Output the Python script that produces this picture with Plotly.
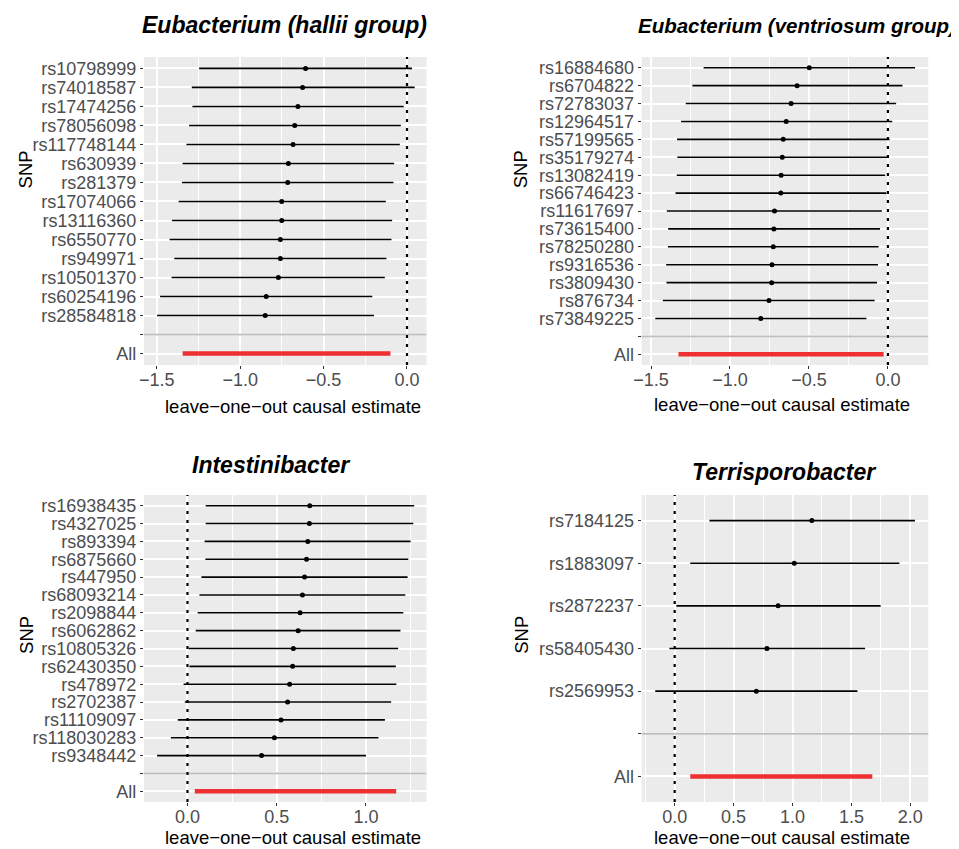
import plotly.graph_objects as go

# page has an 8px body margin; figure covers reference pixels 8..959 / 8..849
OFF = 8
W, H = 959 - OFF, 849 - OFF

# ---------------- data ----------------
title1 = "Eubacterium (hallii group)"
snp1 = ["rs10798999", "rs74018587", "rs17474256", "rs78056098", "rs117748144",
        "rs630939", "rs281379", "rs17074066", "rs13116360", "rs6550770",
        "rs949971", "rs10501370", "rs60254196", "rs28584818"]
est1 = [-0.608, -0.626, -0.654, -0.673, -0.683, -0.711, -0.715, -0.751, -0.751,
        -0.759, -0.759, -0.771, -0.844, -0.850]
lo1 = [-1.246, -1.290, -1.286, -1.306, -1.322, -1.345, -1.349, -1.369, -1.409,
       -1.423, -1.395, -1.411, -1.480, -1.498]
hi1 = [0.030, 0.046, -0.020, -0.037, -0.043, -0.077, -0.081, -0.127, -0.089,
       -0.093, -0.123, -0.133, -0.208, -0.198]
all1 = [-1.345, -0.099]

title2 = "Eubacterium (ventriosum group)"
snp2 = ["rs16884680", "rs6704822", "rs72783037", "rs12964517", "rs57199565",
        "rs35179274", "rs13082419", "rs66746423", "rs11617697", "rs73615400",
        "rs78250280", "rs9316536", "rs3809430", "rs876734", "rs73849225"]
est2 = [-0.498, -0.575, -0.613, -0.644, -0.663, -0.669, -0.676, -0.678, -0.718,
        -0.722, -0.726, -0.734, -0.736, -0.753, -0.805]
lo2 = [-1.167, -1.238, -1.280, -1.310, -1.335, -1.333, -1.337, -1.345, -1.400,
       -1.391, -1.393, -1.404, -1.402, -1.425, -1.473]
hi2 = [0.172, 0.092, 0.052, 0.027, 0.010, -0.006, -0.017, -0.010, -0.038,
       -0.050, -0.059, -0.063, -0.069, -0.084, -0.136]
all2 = [-1.326, -0.027]

title3 = "Intestinibacter"
snp3 = ["rs16938435", "rs4327025", "rs893394", "rs6875660", "rs447950",
        "rs68093214", "rs2098844", "rs6062862", "rs10805326", "rs62430350",
        "rs478972", "rs2702387", "rs11109097", "rs118030283", "rs9348442"]
est3 = [0.685, 0.683, 0.674, 0.667, 0.656, 0.644, 0.631, 0.620, 0.593, 0.589,
        0.572, 0.561, 0.524, 0.487, 0.415]
lo3 = [0.102, 0.102, 0.096, 0.100, 0.078, 0.067, 0.057, 0.046, 0.007, 0.011,
       -0.022, -0.015, -0.054, -0.093, -0.170]
hi3 = [1.270, 1.265, 1.250, 1.237, 1.233, 1.220, 1.209, 1.193, 1.180, 1.167,
       1.170, 1.141, 1.106, 1.070, 1.000]
all3 = [0.041, 1.169]

title4 = "Terrisporobacter"
snp4 = ["rs7184125", "rs1883097", "rs2872237", "rs58405430", "rs2569953"]
est4 = [1.164, 1.015, 0.878, 0.783, 0.693]
lo4 = [0.295, 0.132, 0.014, -0.045, -0.165]
hi4 = [2.039, 1.907, 1.748, 1.616, 1.551]
all4 = [0.132, 1.677]

x_title = "leave\u2212one\u2212out causal estimate"
y_title = "SNP"

# ---------------- layout helpers ----------------
FONT = "Liberation Sans, Arial, Helvetica, sans-serif"
TICK_COL = "#4D4D4D"
PANEL_BG = "#EBEBEB"
RED = "#EE3030"


def px_x(p):
    return (p - OFF) / W


def px_y(p):
    return 1 - (p - OFF) / H


panels = [
    dict(title=title1, tsize=23, snp=snp1, est=est1, lo=lo1, hi=hi1, all=all1,
         xr=[-1.577, 0.117], xd=[137, 422], yd=[57, 365],
         tpos=(279, 25), xtpos=(287, 406), ytpos=(18, 169.5)),
    dict(title=title2, tsize=20.5, snp=snp2, est=est2, lo=lo2, hi=hi2, all=all2,
         xr=[-1.559, 0.2555], xd=[639, 928], yd=[57, 365],
         tpos=(796, 26), xtpos=(781, 405), ytpos=(517, 169.5)),
    dict(title=title3, tsize=23, snp=snp3, est=est3, lo=lo3, hi=hi3, all=all3,
         xr=[-0.244, 1.339], xd=[137, 422], yd=[495, 802],
         tpos=(265.5, 465), xtpos=(287, 837), ytpos=(18, 635)),
    dict(title=title4, tsize=23, snp=snp4, est=est4, lo=lo4, hi=hi4, all=all4,
         xr=[-0.280, 2.152], xd=[639, 928], yd=[495, 802],
         tpos=(783, 472), xtpos=(781, 837), ytpos=(517, 635)),
]

fig = go.Figure()
annotations = []
shapes = []

for i, p in enumerate(panels, start=1):
    sfx = "" if i == 1 else str(i)
    xa, ya = "x" + sfx, "y" + sfx
    n = len(p["snp"])
    ypos = list(range(1, n + 1))
    sep = n + 1
    allpos = n + 2

    # leave-one-out estimates with CIs
    fig.add_trace(go.Scatter(
        x=p["est"], y=ypos, mode="markers", xaxis=xa, yaxis=ya,
        marker=dict(color="black", size=5),
        error_x=dict(type="data", symmetric=False,
                     array=[h - e for h, e in zip(p["hi"], p["est"])],
                     arrayminus=[e - l for e, l in zip(p["est"], p["lo"])],
                     width=0, thickness=1.6, color="black"),
        showlegend=False, hoverinfo="skip"))
    # overall estimate
    fig.add_trace(go.Scatter(
        x=p["all"], y=[allpos, allpos], mode="lines", xaxis=xa, yaxis=ya,
        line=dict(color=RED, width=4.5), showlegend=False, hoverinfo="skip"))

    axis_common = dict(showline=False, zeroline=False, ticks="outside",
                       ticklen=3, tickcolor="#333333", tickwidth=1,
                       tickfont=dict(family=FONT, size=18, color=TICK_COL),
                       showgrid=True, gridcolor="white")
    fig.update_layout(**{
        ("xaxis" + sfx): dict(axis_common, domain=[px_x(p["xd"][0]), px_x(p["xd"][1])],
                              anchor=ya, range=p["xr"], dtick=0.5, tick0=0,
                              tickformat=".1f", gridwidth=1.5, ticklabelstandoff=-5,
                              minor=dict(dtick=0.25, tick0=0, showgrid=True,
                                         gridcolor="white", gridwidth=0.8, ticks="")),
        ("yaxis" + sfx): dict(axis_common, domain=[px_y(p["yd"][1]), px_y(p["yd"][0])],
                              anchor=xa, range=[n + 2.6, 0.4],
                              tickvals=list(range(1, n + 3)),
                              ticktext=p["snp"] + ["", "All"], gridwidth=1.5),
    })

    # separator line
    shapes.append(dict(type="line", xref=xa + " domain", yref=ya,
                       x0=0, x1=1, y0=sep, y1=sep,
                       line=dict(color="#BEBEBE", width=1.8), layer="above"))
    # null line
    shapes.append(dict(type="line", xref=xa, yref=ya + " domain",
                       x0=0, x1=0, y0=0, y1=1,
                       line=dict(color="black", width=2.2, dash="3px,6px"),
                       layer="above"))

    annotations.append(dict(text="<b><i>" + p["title"] + "</i></b>", xref="paper", yref="paper",
                            x=px_x(p["tpos"][0]), y=px_y(p["tpos"][1]),
                            xanchor="center", yanchor="middle", showarrow=False,
                            font=dict(family=FONT, size=p["tsize"], color="black")))
    annotations.append(dict(text=x_title, xref="paper", yref="paper",
                            x=px_x(p["xtpos"][0]), y=px_y(p["xtpos"][1]),
                            xanchor="center", yanchor="middle", showarrow=False,
                            font=dict(family=FONT, size=18.5, color="black")))
    annotations.append(dict(text=y_title, xref="paper", yref="paper",
                            x=px_x(p["ytpos"][0]), y=px_y(p["ytpos"][1]),
                            xanchor="center", yanchor="middle", showarrow=False,
                            textangle=-90,
                            font=dict(family=FONT, size=18.5, color="black")))

fig.update_layout(width=W, height=H, margin=dict(l=0, r=0, t=0, b=0),
                  paper_bgcolor="white", plot_bgcolor=PANEL_BG,
                  annotations=annotations, shapes=shapes)

fig.write_html("out.html")
